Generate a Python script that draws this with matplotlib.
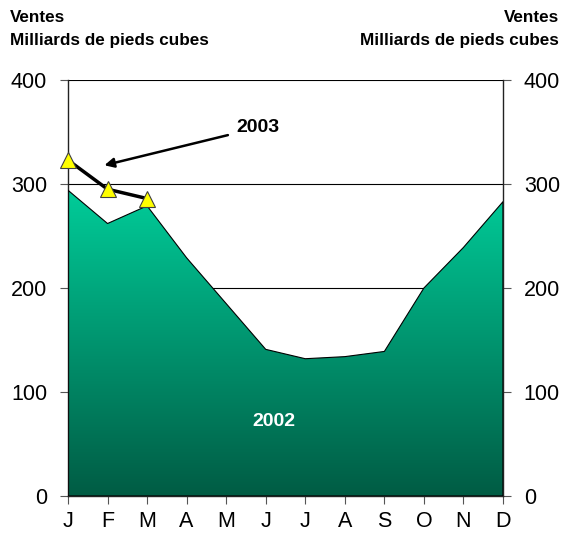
import numpy as np
import matplotlib.pyplot as plt
from matplotlib.colors import LinearSegmentedColormap

plt.rcParams['font.family'] = ['Liberation Sans', 'DejaVu Sans']

months = ['J', 'F', 'M', 'A', 'M', 'J', 'J', 'A', 'S', 'O', 'N', 'D']
ventes_2002 = [294, 262, 279, 229, 185, 141, 132, 134, 139, 200, 239, 283]
ventes_2003 = [323, 295, 286]

x = np.arange(len(months))

fig = plt.figure(figsize=(5.69, 5.37), dpi=100)
ax = fig.add_axes([68 / 569, 1 - 496 / 537, 435 / 569, 416 / 537])

# area 2002 with vertical gradient
poly = ax.fill_between(x, ventes_2002, 0, facecolor='none', edgecolor='black', linewidth=0.8, zorder=3)
cmap = LinearSegmentedColormap.from_list('g', ['#005c44', '#00cc99'])
grad = np.linspace(0, 1, 256).reshape(-1, 1)
img = ax.imshow(grad, cmap=cmap, origin='lower', aspect='auto',
                extent=[0, 11, 0, max(ventes_2002)], zorder=2)
img.set_clip_path(poly.get_paths()[0], transform=ax.transData)

# 2003
ax.plot(x[:3], ventes_2003, color='black', linewidth=2.5, zorder=4, clip_on=False)
ax.plot(x[:3], ventes_2003, linestyle='none', marker='^', markersize=11,
        markerfacecolor='#ffff00', markeredgecolor='#404040', markeredgewidth=0.8,
        zorder=5, clip_on=False)

ax.annotate('2003', xy=(0.92, 318), xytext=(4.25, 354), fontsize=14, fontweight='bold',
            va='center', ha='left',
            arrowprops=dict(arrowstyle='-|>', color='black', lw=1.8, mutation_scale=14,
                            shrinkA=4, shrinkB=0))
ax.text(5.2, 72, '2002', color='white', fontsize=14, fontweight='bold',
        ha='center', va='center', zorder=6)

ax.set_xlim(0, 11)
ax.set_ylim(0, 400)
ax.set_yticks([0, 100, 200, 300, 400])
ax.set_xticks(x)
ax.set_xticklabels(months, fontsize=15.5)
ax.tick_params(axis='y', labelsize=15.5, length=6, direction='out', pad=9,
               right=True, labelright=True, color='#555555')
ax.tick_params(axis='x', length=6, direction='out', pad=5, color='#555555')
ax.grid(axis='y', color='black', linewidth=0.8, zorder=1)
ax.set_axisbelow(True)
ax.spines['top'].set_visible(False)
for s in ['left', 'right', 'bottom']:
    ax.spines[s].set_color('#222222')
    ax.spines[s].set_linewidth(1.0)

for xx, ha in [(10, 'left'), (559, 'right')]:
    fig.text(xx / 569, 1 - 18 / 537, 'Ventes', fontsize=12.3, fontweight='bold', ha=ha, va='center')
    fig.text(xx / 569, 1 - 40 / 537, 'Milliards de pieds cubes', fontsize=12.3,
             fontweight='bold', ha=ha, va='center')

fig.savefig('out.png', dpi=100)
